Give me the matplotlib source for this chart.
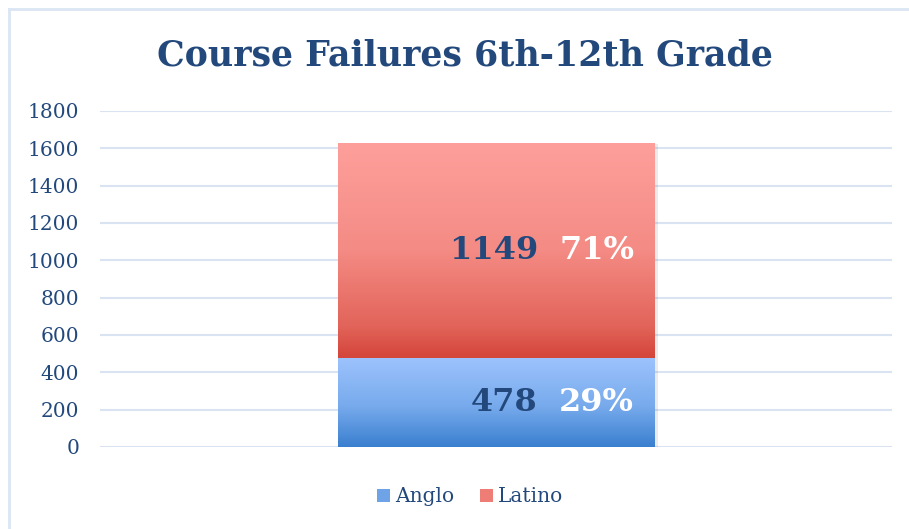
import numpy as np
import matplotlib
matplotlib.use("Agg")
import matplotlib.pyplot as plt
from matplotlib.colors import LinearSegmentedColormap
from matplotlib.patches import Rectangle, Patch
from matplotlib.lines import Line2D

# dati
categorie = ["Course Failures"]
serie = ["Anglo", "Latino"]
anglo = [478]
latino = [1149]
yticks = [0, 200, 400, 600, 800, 1000, 1200, 1400, 1600, 1800]

blu_testo = "#23497c"
griglia = "#d9e3f2"

plt.rcParams["font.family"] = ["DejaVu Serif"]

fig = plt.figure(figsize=(9.09, 5.29), dpi=100)
ax = fig.add_axes([100 / 909, 1 - 447 / 529, 792 / 909, 336 / 529])

# bordo esterno del grafico (solo alto e sinistra visibili)
bx, by = 8.5 / 909, 1 - 8.5 / 529
fig.lines.append(Line2D([bx, 1.0], [by, by], transform=fig.transFigure,
                        color="#dbe5f3", linewidth=2.0))
fig.lines.append(Line2D([bx, bx], [0.0, by], transform=fig.transFigure,
                        color="#dbe5f3", linewidth=2.0))

x = np.arange(len(categorie))
b1 = ax.bar(x, anglo, width=1.0, color="none", zorder=3)
b2 = ax.bar(x, latino, bottom=anglo, width=1.0, color="none", zorder=3)

# sfumature verticali
cmap_blu = LinearSegmentedColormap.from_list(
    "blu", [(0, "#3a7fcf"), (0.45, "#77aaec"), (1, "#9dc3fd")])
cmap_rosso = LinearSegmentedColormap.from_list(
    "rosso", [(0, "#d4453a"), (0.15, "#e2645a"), (0.5, "#f48b84"), (1, "#fe9f9b")])

grad = np.linspace(0, 1, 256).reshape(-1, 1)
for barre, cmap in [(b1, cmap_blu), (b2, cmap_rosso)]:
    for p in barre.patches:
        x0, y0 = p.get_x(), p.get_y()
        w, h = p.get_width(), p.get_height()
        # ombra leggera
        ax.add_patch(Rectangle((x0 + 0.012, y0 - 4), w, h, color="#000000",
                               alpha=0.08, zorder=2, linewidth=0))
        im = ax.imshow(grad, extent=[x0, x0 + w, y0, y0 + h], origin="lower",
                       cmap=cmap, aspect="auto", zorder=3)
        im.set_clip_path(p)

# etichette
totale = anglo[0] + latino[0]
for barre, valori in [(b1, anglo), (b2, latino)]:
    for p, v in zip(barre.patches, valori):
        cy = p.get_y() + p.get_height() / 2
        cx = p.get_x() + p.get_width() / 2
        ax.annotate(str(v), (cx, cy), xytext=(42, 0), textcoords="offset pixels",
                    ha="right", va="center", fontsize=23, fontweight="bold",
                    color=blu_testo, zorder=5)
        ax.annotate(f"{v / totale:.0%}", (cx, cy), xytext=(63, 0),
                    textcoords="offset pixels", ha="left", va="center",
                    fontsize=23, fontweight="bold", color="white", zorder=5)

ax.set_xlim(-1.25, 1.25)
ax.set_ylim(0, 1800)
ax.set_yticks(yticks)
ax.set_xticks([])
ax.tick_params(axis="y", length=0, pad=15, labelsize=14.5, labelcolor=blu_testo)
ax.grid(axis="y", color=griglia, linewidth=1.5, zorder=0)
for s in ax.spines.values():
    s.set_visible(False)
ax.set_facecolor("none")

fig.text(465 / 909, 1 - 55 / 529, "Course Failures 6th-12th Grade",
         ha="center", va="center", fontsize=25, fontweight="bold", color=blu_testo)

maniglie = [Patch(facecolor="#6fa3e8", label=serie[0]),
            Patch(facecolor="#ee7d75", label=serie[1])]
fig.legend(handles=maniglie, loc="center", bbox_to_anchor=(470 / 909, 1 - 497 / 529),
           ncol=2, frameon=False, fontsize=14.5, handlelength=0.62, handleheight=0.62,
           handletextpad=0.25, columnspacing=1.3, labelcolor=blu_testo)

fig.savefig("out.png", dpi=100)
